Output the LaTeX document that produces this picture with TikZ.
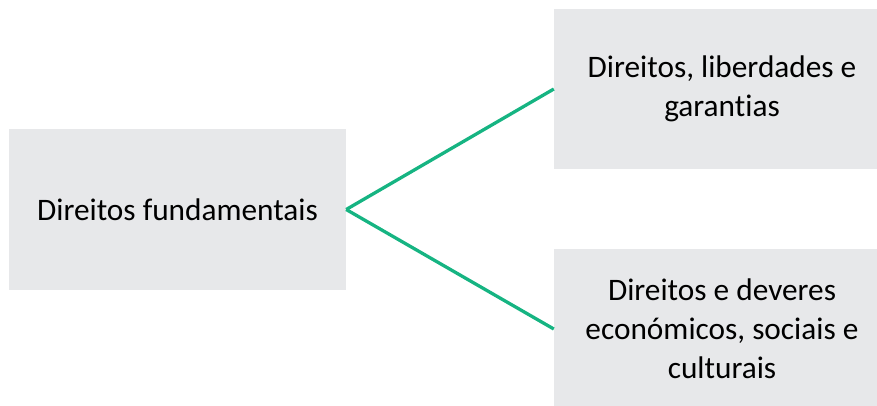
\documentclass[tikz,border=0pt]{standalone}
\usepackage{fontspec}
\setmainfont{Carlito}[Ligatures=NoCommon]
\definecolor{boxgray}{RGB}{231,232,234}
\definecolor{linkgreen}{RGB}{22,180,130}
\begin{document}
\begin{tikzpicture}[x=1pt,y=-1pt,
  box/.style={fill=boxgray,draw=none,align=center,inner sep=0pt,
    font=\fontsize{31.3}{39}\selectfont},
  link/.style={draw=linkgreen,line width=3.3pt}]
\useasboundingbox (0,0) rectangle (877,405);
\node[box,minimum width=337pt,minimum height=161pt] (df) at (177.5,209.5) {Direitos fundamentais};
\node[box,minimum width=336pt,minimum height=160pt] (dlg) at (722,89) {Direitos, liberdades e\\garantias};
\node[box,minimum width=336pt,minimum height=160pt] (ddesc) at (722,329) {Direitos e deveres\\económicos, sociais e\\culturais};
\draw[link] (df.east) -- (dlg.west);
\draw[link] (df.east) -- (ddesc.west);
\end{tikzpicture}
\end{document}
